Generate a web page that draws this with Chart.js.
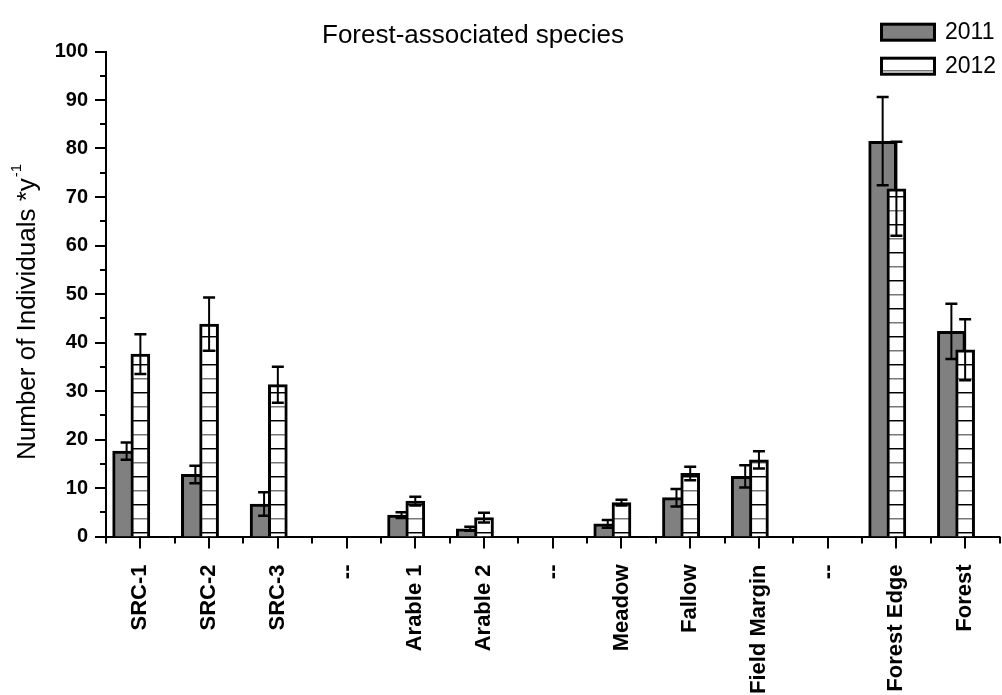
<!DOCTYPE html>
<html>
<head>
<meta charset="utf-8">
<title>Forest-associated species</title>
<script src="https://cdn.jsdelivr.net/npm/chart.js@4.4.1/dist/chart.umd.min.js"></script>
<style>
  body { margin: 0; background: #fff; }
  canvas { display: block; }
</style>
</head>
<body>
<canvas id="speciesChart" width="1002" height="695"></canvas>
<script>
// habitat categories along the x axis ('--' are empty spacer slots)
const habitats = ['SRC-1', 'SRC-2', 'SRC-3', '--', 'Arable 1', 'Arable 2', '--', 'Meadow', 'Fallow', 'Field Margin', '--', 'Forest Edge', 'Forest'];

// mean number of individuals per year, with error (+/-)
const values2011 = [17.6, 12.8, 6.7, null, 4.4, 1.6, null, 2.6, 8.0, 12.4, null, 81.5, 42.3];
const errors2011 = [1.8, 1.8, 2.4, null, 0.6, 0.4, null, 0.8, 1.8, 2.3, null, 9.1, 5.7];
const values2012 = [37.6, 43.8, 31.3, null, 7.3, 3.9, null, 7.0, 13.0, 15.8, null, 71.7, 38.5];
const errors2012 = [4.1, 5.5, 3.7, null, 0.9, 1.0, null, 0.6, 1.4, 1.8, null, 9.7, 6.3];

const yMin = 0;
const yMax = 100;
const yStep = 10;

const FONT = '"Liberation Sans", Arial, sans-serif';
const GRAY_SHIFT = 0.2; // 2011 bar sits a bit left of the category tick

// horizontal line fill used for the 2012 bars
function makeHatch() {
    const c = document.createElement('canvas');
    c.width = 8;
    c.height = 28;
    const g = c.getContext('2d');
    g.fillStyle = '#fff';
    g.fillRect(0, 0, 8, 28);
    g.fillStyle = '#000';
    g.fillRect(0, 0, 8, 1);
    g.fillStyle = '#888';
    g.fillRect(0, 1, 8, 1);
    g.fillStyle = '#777';
    g.fillRect(0, 14, 8, 1);
    g.fillStyle = '#bbb';
    g.fillRect(0, 15, 8, 1);
    return g.createPattern(c, 'repeat');
}
const hatch = makeHatch();

function toPoints(values, errors, shift) {
    const pts = [];
    values.forEach((v, i) => {
        if (v === null) return;
        pts.push({ x: i + 1 - shift, y: v, err: errors[i] });
    });
    return pts;
}

// error bars, tick marks, titles and legend
const extras = {
    id: 'extras',
    afterDatasetsDraw(chart) {
        const ctx = chart.ctx;
        ctx.save();
        ctx.strokeStyle = '#000';
        chart.data.datasets.forEach((ds, d) => {
            const meta = chart.getDatasetMeta(d);
            const yScale = chart.scales.y;
            ds.data.forEach((pt, j) => {
                const bar = meta.data[j];
                const top = yScale.getPixelForValue(pt.y + pt.err);
                const bot = yScale.getPixelForValue(pt.y - pt.err);
                ctx.lineWidth = 2;
                ctx.beginPath();
                ctx.moveTo(bar.x, top);
                ctx.lineTo(bar.x, bot);
                ctx.stroke();
                ctx.lineWidth = 2.5;
                ctx.beginPath();
                ctx.moveTo(bar.x - 6, top);
                ctx.lineTo(bar.x + 6, top);
                ctx.moveTo(bar.x - 6, bot);
                ctx.lineTo(bar.x + 6, bot);
                ctx.stroke();
            });
        });
        ctx.restore();
    },
    afterDraw(chart) {
        const ctx = chart.ctx;
        const { x, y } = chart.scales;
        ctx.save();
        ctx.strokeStyle = '#000';
        ctx.lineWidth = 2;

        // x ticks: long at each category, short between
        ctx.beginPath();
        for (let k = 0.5; k <= habitats.length + 0.5; k += 0.5) {
            const px = Math.round(x.getPixelForValue(k));
            const len = Number.isInteger(k) ? 12 : 7;
            ctx.moveTo(px, y.bottom);
            ctx.lineTo(px, y.bottom + len);
        }
        // y ticks: long every 10, short every 5
        for (let v = yMin; v <= yMax; v += yStep / 2) {
            const py = Math.round(y.getPixelForValue(v));
            const len = v % yStep === 0 ? 11 : 6;
            ctx.moveTo(x.left - len, py);
            ctx.lineTo(x.left, py);
        }
        ctx.stroke();

        ctx.fillStyle = '#000';

        // chart title
        ctx.font = '26px ' + FONT;
        ctx.textAlign = 'left';
        ctx.textBaseline = 'alphabetic';
        ctx.fillText('Forest-associated species', 322, 43);

        // y axis title with superscript
        ctx.save();
        ctx.translate(35, 460);
        ctx.rotate(-Math.PI / 2);
        ctx.font = '26px ' + FONT;
        const main = 'Number of Individuals *y';
        ctx.fillText(main, 0, 0);
        const w = ctx.measureText(main).width;
        ctx.font = '15px ' + FONT;
        ctx.fillText('-1', w + 1, -14);
        ctx.restore();

        // legend
        ctx.lineWidth = 3;
        ctx.fillStyle = '#808080';
        ctx.fillRect(881.5, 24.2, 53, 16);
        ctx.strokeRect(881.5, 24.2, 53, 16);
        ctx.fillStyle = hatch;
        ctx.fillRect(881.5, 58.2, 53, 16);
        ctx.strokeRect(881.5, 58.2, 53, 16);
        ctx.fillStyle = '#000';
        ctx.font = '23px ' + FONT;
        ctx.textBaseline = 'middle';
        ctx.fillText('2011', 945, 33);
        ctx.fillText('2012', 945, 67);
        ctx.restore();
    }
};

const ctx = document.getElementById('speciesChart').getContext('2d');
const speciesChart = new Chart(ctx, {
    type: 'bar',
    data: {
        datasets: [
            {
                label: '2011',
                data: toPoints(values2011, errors2011, GRAY_SHIFT),
                backgroundColor: '#808080',
                borderColor: '#000',
                borderWidth: 3,
                barThickness: 28,
                grouped: false,
                order: 2
            },
            {
                label: '2012',
                data: toPoints(values2012, errors2012, 0),
                backgroundColor: hatch,
                borderColor: '#000',
                borderWidth: 3,
                barThickness: 19,
                grouped: false,
                order: 1
            }
        ]
    },
    options: {
        responsive: false,
        animation: false,
        layout: {
            padding: { top: 51.5, right: 2.5, left: 0, bottom: 0 }
        },
        plugins: {
            legend: { display: false },
            tooltip: { enabled: false },
            title: { display: false }
        },
        scales: {
            x: {
                type: 'linear',
                min: 0.5,
                max: habitats.length + 0.5,
                offset: false,
                grid: { display: false, drawTicks: false },
                border: { display: true, color: '#000', width: 2 },
                afterBuildTicks: (scale) => {
                    scale.ticks = habitats.map((h, i) => ({ value: i + 1 }));
                },
                afterFit: (scale) => {
                    scale.height = 158.5;
                    // rotated labels sit well inside the axis, no extra side padding needed
                    scale.paddingLeft = 0;
                    scale.paddingRight = 0;
                },
                ticks: {
                    autoSkip: false,
                    minRotation: 90,
                    maxRotation: 90,
                    padding: 28,
                    color: '#000',
                    font: { family: FONT, size: 22, weight: 'bold' },
                    callback: (value) => habitats[value - 1] ?? ''
                }
            },
            y: {
                min: yMin,
                max: yMax,
                grid: { display: false, drawTicks: false },
                border: { display: true, color: '#000', width: 2 },
                afterFit: (scale) => { scale.width = 106; },
                ticks: {
                    stepSize: yStep,
                    padding: 18,
                    color: '#000',
                    font: { family: FONT, size: 20, weight: 'bold' }
                }
            }
        }
    },
    plugins: [extras]
});
</script>
</body>
</html>
